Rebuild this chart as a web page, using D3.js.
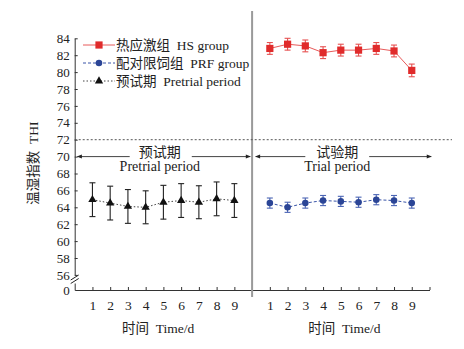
<!DOCTYPE html>
<html>
<head>
<meta charset="utf-8">
<script src="https://cdn.jsdelivr.net/npm/d3@7"></script>
<style>
  body { margin: 0; background: #fff; }
  svg text { font-family: "Liberation Serif", "Noto Sans CJK SC", serif; fill: #222; white-space: pre; }
</style>
</head>
<body>
<div id="chart"></div>
<script>
// days of each period
var days = [1, 2, 3, 4, 5, 6, 7, 8, 9];

// pretrial period (all animals)
var pretrial   = [64.9, 64.5, 64.1, 64.0, 64.6, 64.8, 64.6, 65.0, 64.8];
var pretrialSd = [2.0, 2.0, 2.0, 1.95, 2.0, 2.0, 1.95, 2.0, 2.0];

// trial period
var hs    = [82.8, 83.3, 83.1, 82.3, 82.6, 82.6, 82.8, 82.5, 80.2];
var hsSd  = [0.7, 0.7, 0.7, 0.7, 0.7, 0.7, 0.7, 0.7, 0.75];
var prf   = [64.5, 64.0, 64.5, 64.8, 64.7, 64.6, 64.9, 64.8, 64.5];
var prfSd = [0.6, 0.6, 0.6, 0.6, 0.6, 0.6, 0.6, 0.6, 0.6];

var yTicks = [84, 82, 80, 78, 76, 74, 72, 70, 68, 66, 64, 62, 60, 58, 56];
var threshold = 72;

var legendNames = ["热应激组  HS group", "配对限饲组  PRF group", "预试期  Pretrial period"];

var W = 464, H = 349;
var svg = d3.select("#chart").append("svg")
  .attr("width", W).attr("height", H);

// x runs 0..20: pretrial days on 1..9, trial days on 11..19
var x = d3.scaleLinear().domain([0, 20]).range([74.7, 429.5]);
var y = d3.scaleLinear().domain([56, 84]).range([274.9, 38.3]);
var yZero = 290;

// y axis (upper part)
var yAxis = svg.append("g")
  .attr("transform", "translate(" + x(0) + ",0)")
  .call(d3.axisLeft(y).tickValues(yTicks).tickSize(-3).tickSizeOuter(0).tickPadding(5));
yAxis.selectAll("text").style("font-size", "13px");

// lower stub with the 0 tick
var y0 = d3.scaleLinear().domain([0, 1]).range([yZero, 283]);
var yAxis0 = svg.append("g")
  .attr("transform", "translate(" + x(0) + ",0)")
  .call(d3.axisLeft(y0).tickValues([0]).tickFormat(d3.format("d"))
    .tickSize(0).tickSizeOuter(0).tickPadding(5));
yAxis0.selectAll("text").style("font-size", "13px");

// break marks
[277.5, 281].forEach(function(b) {
  svg.append("line")
    .attr("x1", x(0) - 4).attr("y1", b + 2.5)
    .attr("x2", x(0) + 4).attr("y2", b - 2.5)
    .attr("stroke", "#222").attr("stroke-width", 1);
});

// x axis
var xTickVals = days.concat(days.map(function(d) { return d + 10; })).concat([20]);
var xAxis = svg.append("g")
  .attr("transform", "translate(0," + yZero + ")")
  .call(d3.axisBottom(x).tickValues(xTickVals).tickSize(-3).tickSizeOuter(0).tickPadding(10)
    .tickFormat(function(d) { return d === 20 ? "" : (d > 10 ? d - 10 : d); }));
xAxis.selectAll("text").style("font-size", "13.5px");
svg.selectAll(".domain").attr("stroke", "#333");
svg.selectAll(".tick line").attr("stroke", "#333");

// divider between periods
svg.append("line")
  .attr("x1", x(10)).attr("x2", x(10))
  .attr("y1", 11).attr("y2", 297)
  .attr("stroke", "#9a9a9a").attr("stroke-width", 2);

// THI threshold line
svg.append("line")
  .attr("x1", x(0)).attr("x2", 452)
  .attr("y1", y(threshold)).attr("y2", y(threshold))
  .attr("stroke", "#555").attr("stroke-width", 1)
  .attr("stroke-dasharray", "2,2");

// period arrows
var defs = svg.append("defs");
defs.append("marker")
  .attr("id", "head")
  .attr("viewBox", "0 0 10 10")
  .attr("refX", 9).attr("refY", 5)
  .attr("markerWidth", 7).attr("markerHeight", 5)
  .attr("orient", "auto")
  .append("path").attr("d", "M0,1L10,5L0,9Z").attr("fill", "#222");

var arrowY = y(70);
function arrow(from, to) {
  svg.append("line")
    .attr("x1", x(from)).attr("x2", x(to))
    .attr("y1", arrowY).attr("y2", arrowY)
    .attr("stroke", "#444").attr("stroke-width", 1)
    .attr("marker-end", "url(#head)");
}
arrow(3.1, 0.15);
arrow(6.6, 9.9);
arrow(13.0, 10.2);
arrow(16.6, 20.1);

function periodLabel(cx, cn, en) {
  svg.append("text").attr("x", x(cx)).attr("y", arrowY + 0.5)
    .attr("text-anchor", "middle").style("font-size", "14px").text(cn);
  svg.append("text").attr("x", x(cx)).attr("y", arrowY + 14.5)
    .attr("text-anchor", "middle").style("font-size", "14px").text(en);
}
periodLabel(4.8, "预试期", "Pretrial period");
periodLabel(14.8, "试验期", "Trial period");

// axis titles
svg.append("text")
  .attr("transform", "translate(38,163) rotate(-90)")
  .attr("text-anchor", "middle").style("font-size", "13.5px")
  .text("温湿指数  THI");
svg.append("text").attr("x", x(4.7)).attr("y", 333)
  .attr("text-anchor", "middle").style("font-size", "13.5px").text("时间  Time/d");
svg.append("text").attr("x", x(15.2)).attr("y", 333)
  .attr("text-anchor", "middle").style("font-size", "13.5px").text("时间  Time/d");

// series drawing
function drawSeries(vals, sds, offset, opt) {
  var pts = days.map(function(d, i) { return { x: d + offset, v: vals[i], sd: sds[i] }; });
  var g = svg.append("g");
  g.append("path").datum(pts)
    .attr("d", d3.line().x(function(d) { return x(d.x); }).y(function(d) { return y(d.v); }))
    .attr("fill", "none").attr("stroke", opt.line)
    .attr("stroke-width", 1)
    .attr("stroke-dasharray", opt.dash);
  var eb = g.selectAll(".eb").data(pts).enter().append("g")
    .attr("stroke", opt.bar).attr("stroke-width", 1.1);
  eb.append("line")
    .attr("x1", function(d) { return x(d.x); }).attr("x2", function(d) { return x(d.x); })
    .attr("y1", function(d) { return y(d.v + d.sd); }).attr("y2", function(d) { return y(d.v - d.sd); });
  eb.append("line")
    .attr("x1", function(d) { return x(d.x) - 3; }).attr("x2", function(d) { return x(d.x) + 3; })
    .attr("y1", function(d) { return y(d.v + d.sd); }).attr("y2", function(d) { return y(d.v + d.sd); });
  eb.append("line")
    .attr("x1", function(d) { return x(d.x) - 3; }).attr("x2", function(d) { return x(d.x) + 3; })
    .attr("y1", function(d) { return y(d.v - d.sd); }).attr("y2", function(d) { return y(d.v - d.sd); });
  g.selectAll(".pt").data(pts).enter().append("path")
    .attr("transform", function(d) { return "translate(" + x(d.x) + "," + y(d.v) + ")"; })
    .attr("d", d3.symbol().type(opt.shape).size(opt.size))
    .attr("fill", opt.fill);
}

var styles = [
  { line: "#e85a5a", bar: "#e65050", fill: "#e02b2b", dash: null, shape: d3.symbolSquare, size: 52 },
  { line: "#3a55a8", bar: "#4a64b4", fill: "#2b4596", dash: "3,2", shape: d3.symbolCircle, size: 34 },
  { line: "#444", bar: "#222", fill: "#111", dash: "1.5,2", shape: d3.symbolTriangle, size: 30 }
];

drawSeries(pretrial, pretrialSd, 0, styles[2]);
drawSeries(hs, hsSd, 10, styles[0]);
drawSeries(prf, prfSd, 10, styles[1]);

// legend
var legend = svg.append("g").attr("transform", "translate(83,45)");
legendNames.forEach(function(name, i) {
  var s = styles[i];
  var row = legend.append("g").attr("transform", "translate(0," + (i * 18) + ")");
  row.append("line").attr("x1", 0).attr("x2", 32).attr("y1", 0).attr("y2", 0)
    .attr("stroke", s.line).attr("stroke-width", 1).attr("stroke-dasharray", s.dash);
  row.append("path").attr("transform", "translate(16,0)")
    .attr("d", d3.symbol().type(s.shape).size(s.size)).attr("fill", s.fill);
  row.append("text").attr("x", 33).attr("y", 5)
    .style("font-size", "13.5px").text(name);
});
</script>
</body>
</html>
